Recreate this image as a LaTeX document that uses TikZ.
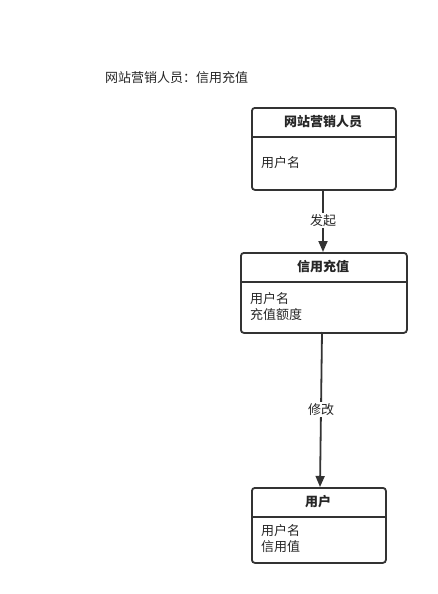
\documentclass[tikz,border=0pt]{standalone}
\usepackage{fontspec}
\setmainfont{Noto Sans CJK SC}
\usetikzlibrary{arrows.meta}
\tikzset{
  box/.style={draw=black!80, line width=1.8pt, rounded corners=3pt},
  divider/.style={draw=black!80, line width=1.8pt},
  ttl/.style={font=\fontsize{13}{15}\selectfont\bfseries, text=black!85},
  txt/.style={font=\fontsize{13}{16}\selectfont, text=black!85, anchor=west, align=left, inner sep=0pt},
  conn/.style={draw=black!80, line width=1.8pt, -{Triangle[length=11pt,width=9pt]}},
  lbl/.style={font=\fontsize{13}{15}\selectfont, text=black!85, fill=white, inner sep=1pt},
}
\begin{document}
\begin{tikzpicture}[x=1pt,y=-1pt]
\useasboundingbox (0,0) rectangle (438,594);
\node[txt] (head) at (105,78) {网站营销人员：信用充值};
% box 1
\node[box, minimum width=144pt, minimum height=82pt, anchor=north west, inner sep=0pt] (b1) at (251,107) {};
\draw[divider] (251,137) -- (395,137);
\node[ttl] (t1) at (323,122) {网站营销人员};
\node[txt] (a1) at (261,163) {用户名};
% box 2
\node[box, minimum width=166pt, minimum height=80pt, anchor=north west, inner sep=0pt] (b2) at (240,252) {};
\draw[divider] (240,282) -- (406,282);
\node[ttl] (t2) at (323,267) {信用充值};
\node[txt] (a2) at (250,307) {用户名\\充值额度};
% box 3
\node[box, minimum width=134pt, minimum height=75pt, anchor=north west, inner sep=0pt] (b3) at (251,487) {};
\draw[divider] (251,517) -- (385,517);
\node[ttl] (t3) at (318,502) {用户};
\node[txt] (a3) at (261,539) {用户名\\信用值};
% connectors
\coordinate (s1) at (323,189);
\coordinate (e1) at (323,252);
\draw[conn] (s1) -- (e1) node[lbl, pos=0.5] (l1) {发起};
\coordinate (s2) at (322,332);
\coordinate (e2) at (320,487);
\draw[conn] (s2) -- (e2) node[lbl, pos=0.5] (l2) {修改};
\end{tikzpicture}
\end{document}
